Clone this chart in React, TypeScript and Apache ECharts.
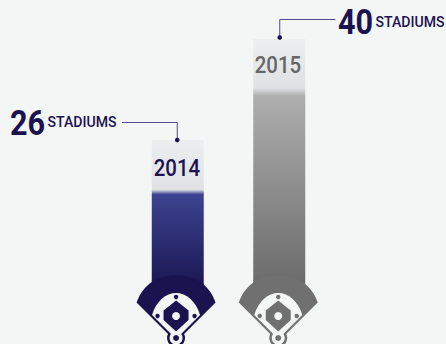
import React, { useEffect, useRef } from "react";
import * as echarts from "echarts";

const years = ["2014", "2015"];
const stadiums = [26, 40];
const unitLabel = "STADIUMS";
const BG = "#f4f6f6";
const NAVY = "#1b1250";
const FONT = "Roboto";
const Z = 10;

echarts.graphic.registerShape("fan", echarts.graphic.extendPath(
  "M-39.5 302.5C-33 284 -18 275 0 275C18 275 33 284 39.5 302.5L6 336L-6 336Z", {}));
echarts.graphic.registerShape("infield", echarts.graphic.extendPath(
  "M-24 315C-20 301 -10 293 0 293C10 293 20 301 24 315L4 335L-4 335Z", {}));

function icon(cx: number, color: string) {
  return {
    type: "group", x: cx, y: 0, silent: true,
    children: [
      { type: "fan", z: Z, style: { fill: color } },
      { type: "circle", z: Z, shape: { cx: 0, cy: 338, r: 9 }, style: { fill: color } },
      { type: "infield", z: Z + 1, style: { fill: BG } },
      { type: "polygon", z: Z + 2, shape: { points: [[0, 300.5], [12.5, 310.5], [12.5, 320], [0, 331.5], [-12.5, 320], [-12.5, 310.5]] }, style: { fill: color } },
      { type: "circle", z: Z + 3, shape: { cx: 0, cy: 316, r: 4 }, style: { fill: BG } },
      { type: "circle", z: Z + 3, shape: { cx: 0, cy: 297, r: 2.2 }, style: { fill: color } },
      { type: "circle", z: Z + 3, shape: { cx: -18.5, cy: 316, r: 2.2 }, style: { fill: color } },
      { type: "circle", z: Z + 3, shape: { cx: 18.5, cy: 316, r: 2.2 }, style: { fill: color } },
      { type: "circle", z: Z + 3, shape: { cx: 0, cy: 338, r: 6.5 }, style: { fill: BG } },
      { type: "circle", z: Z + 4, shape: { cx: 0, cy: 338, r: 3 }, style: { fill: color } },
    ],
  };
}

function txt(text: string, x: number, y: number, size: number, weight: number, fill: string, scaleX = 0.85) {
  return {
    type: "text", x, y, scaleX, z: Z, silent: true,
    style: { text, fontFamily: FONT, fontSize: size, fontWeight: weight, fill, textAlign: "left", textVerticalAlign: "middle" },
  };
}

function barGradient(capFrac: number, c1: string, c2: string) {
  return new echarts.graphic.LinearGradient(0, 0, 0, 1, [
    { offset: 0, color: "#eceef0" },
    { offset: capFrac - 0.015, color: "#dfe1e3" },
    { offset: capFrac + 0.015, color: c1 },
    { offset: 1, color: c2 },
  ]);
}

export default function App() {
  const ref = useRef<HTMLDivElement>(null);
  useEffect(() => {
    const chart = echarts.init(ref.current!, undefined, { renderer: "svg" });
    chart.setOption({
      animation: false,
      backgroundColor: BG,
      grid: { left: 127, width: 203, top: 2.9, bottom: 45.3 },
      xAxis: { type: "category", data: years, show: false },
      yAxis: { type: "value", min: 4, max: 45, show: false },
      series: [{
        type: "bar",
        barWidth: 52,
        silent: true,
        data: [
          { value: stadiums[0], itemStyle: { color: barGradient(0.328, "#3d4390", "#17114c") } },
          { value: stadiums[1], itemStyle: { color: barGradient(0.204, "#aeaeae", "#666666") } },
        ],
      }],
    });
    const [x0, y0] = chart.convertToPixel({ seriesIndex: 0 }, [0, stadiums[0]]) as number[];
    const [x1, y1] = chart.convertToPixel({ seriesIndex: 0 }, [1, stadiums[1]]) as number[];
    const leader = (pts: number[][]) => ({
      type: "polyline", z: Z, silent: true, shape: { points: pts },
      style: { stroke: "#4d4a85", lineWidth: 1, fill: "none" },
    });
    chart.setOption({
      graphic: [
        icon(x0 - 1.7, NAVY),
        icon(x1 - 1, "#707070"),
        txt(years[0], x0 - 24, y0 + 27.5, 24, 500, NAVY),
        txt(years[1], x1 - 24.5, y1 + 25, 24, 500, "#666666"),
        leader([[122, y0 - 17.5], [x0 - 0.5, y0 - 17.5], [x0 - 0.5, y0]]),
        { type: "circle", z: Z, silent: true, shape: { cx: x0 - 0.5, cy: y0, r: 2.3 }, style: { fill: NAVY } },
        leader([[335.5, y1 - 19.5], [x1 + 0.5, y1 - 19.5], [x1 + 0.5, y1 - 2]]),
        { type: "circle", z: Z, silent: true, shape: { cx: x1 + 0.5, cy: y1 - 1.5, r: 2.3 }, style: { fill: NAVY } },
        txt(String(stadiums[0]), 10, 123, 36, 700, NAVY),
        txt(unitLabel, 47.5, 122.5, 15, 500, NAVY, 0.94),
        txt(String(stadiums[1]), 338, 22, 36, 700, NAVY),
        txt(unitLabel, 375.5, 22, 15, 500, NAVY, 0.94),
      ],
    });
    return () => chart.dispose();
  }, []);
  return <div ref={ref} style={{ position: "absolute", left: 0, top: 0, width: 446, height: 344 }} />;
}
